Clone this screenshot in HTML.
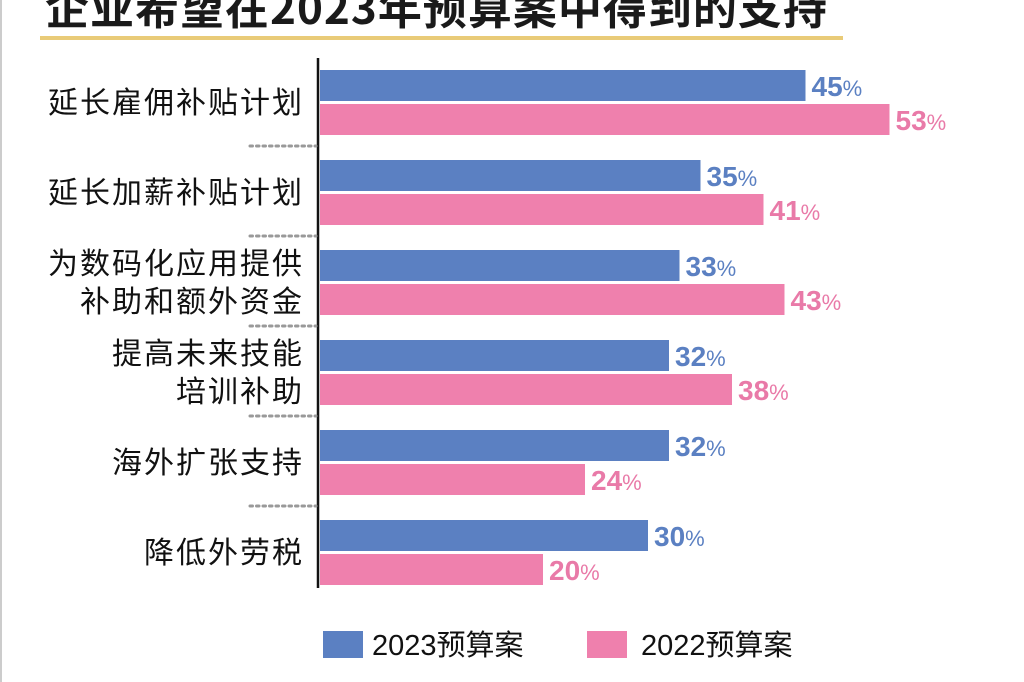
<!DOCTYPE html>
<html><head><meta charset="utf-8"><style>
body{margin:0;width:1024px;height:682px;background:#fff;overflow:hidden;font-family:"Liberation Sans","Noto Sans CJK SC",sans-serif;}
svg{display:block}
</style></head><body>
<svg id="c" width="1024" height="682">
<line x1="1" y1="0" x2="1" y2="682" stroke="#bbb" stroke-width="1.5"/>
<text x="45" y="24" font-size="44" font-weight="bold" letter-spacing="1" fill="#1a1a1a" font-family="'Noto Sans CJK SC',sans-serif">企业希望在2023年预算案中得到的支持</text>
<rect x="40" y="36" width="803" height="4" fill="#e9cb78"/>
<line x1="318" y1="58" x2="318" y2="588" stroke="#111" stroke-width="2.5"/>
<g id="marks"></g>
<g>
<rect x="323" y="631" width="40" height="27" fill="#5b80c2"/>
<text x="372" y="655" font-size="29" fill="#111">2023预算案</text>
<rect x="587" y="631" width="40" height="27" fill="#ef80ad"/>
<text x="641" y="655" font-size="29" fill="#111">2022预算案</text>
</g>
</svg>
<script>
const categories=[["延长雇佣补贴计划"],["延长加薪补贴计划"],["为数码化应用提供","补助和额外资金"],["提高未来技能","培训补助"],["海外扩张支持"],["降低外劳税"]];
const values2023=[45,35,33,32,32,30];
const values2022=[53,41,43,38,24,20];
const NS="http://www.w3.org/2000/svg";
const g=document.getElementById("marks");
function xs(v){return 333+10.5*v;}
function yRow(i){return 70+90*i;}
const x0=320;
function mk(t,a){const e=document.createElementNS(NS,t);for(const k in a)e.setAttribute(k,a[k]);g.appendChild(e);return e;}
categories.forEach((lab,i)=>{
  const y=yRow(i);
  const b1=mk("rect",{x:x0,y:y,width:xs(values2023[i])-x0,height:31,fill:"#5b80c2"});
  
  
  const b2=mk("rect",{x:x0,y:y+34,width:xs(values2022[i])-x0,height:31,fill:"#ef80ad"});
  
  
  [[values2023[i],y,"#5b80c2"],[values2022[i],y+34,"#e97aa8"]].forEach(([v,yy,c])=>{
    const t=mk("text",{x:xs(v)+6,y:yy+26,"font-size":28,"font-weight":"bold",fill:c});
    t.innerHTML=v+'<tspan font-size="22" font-weight="normal">%</tspan>';
    
    
  });
  const cy=y+32;
  lab.forEach((l,j)=>{
    const t=mk("text",{x:304,y:lab.length===1?cy+11:(j===0?cy-8:cy+30),"font-size":30,"letter-spacing":2,fill:"#111","text-anchor":"end"});
    t.textContent=l;
    
    
  });
  if(i<categories.length-1){
    const d=mk("line",{x1:250,y1:y+76,x2:316,y2:y+76,stroke:"#999","stroke-width":3,"stroke-dasharray":"2.5 4","stroke-linecap":"round"});
    
    
  }
});
</script>
</body></html>
